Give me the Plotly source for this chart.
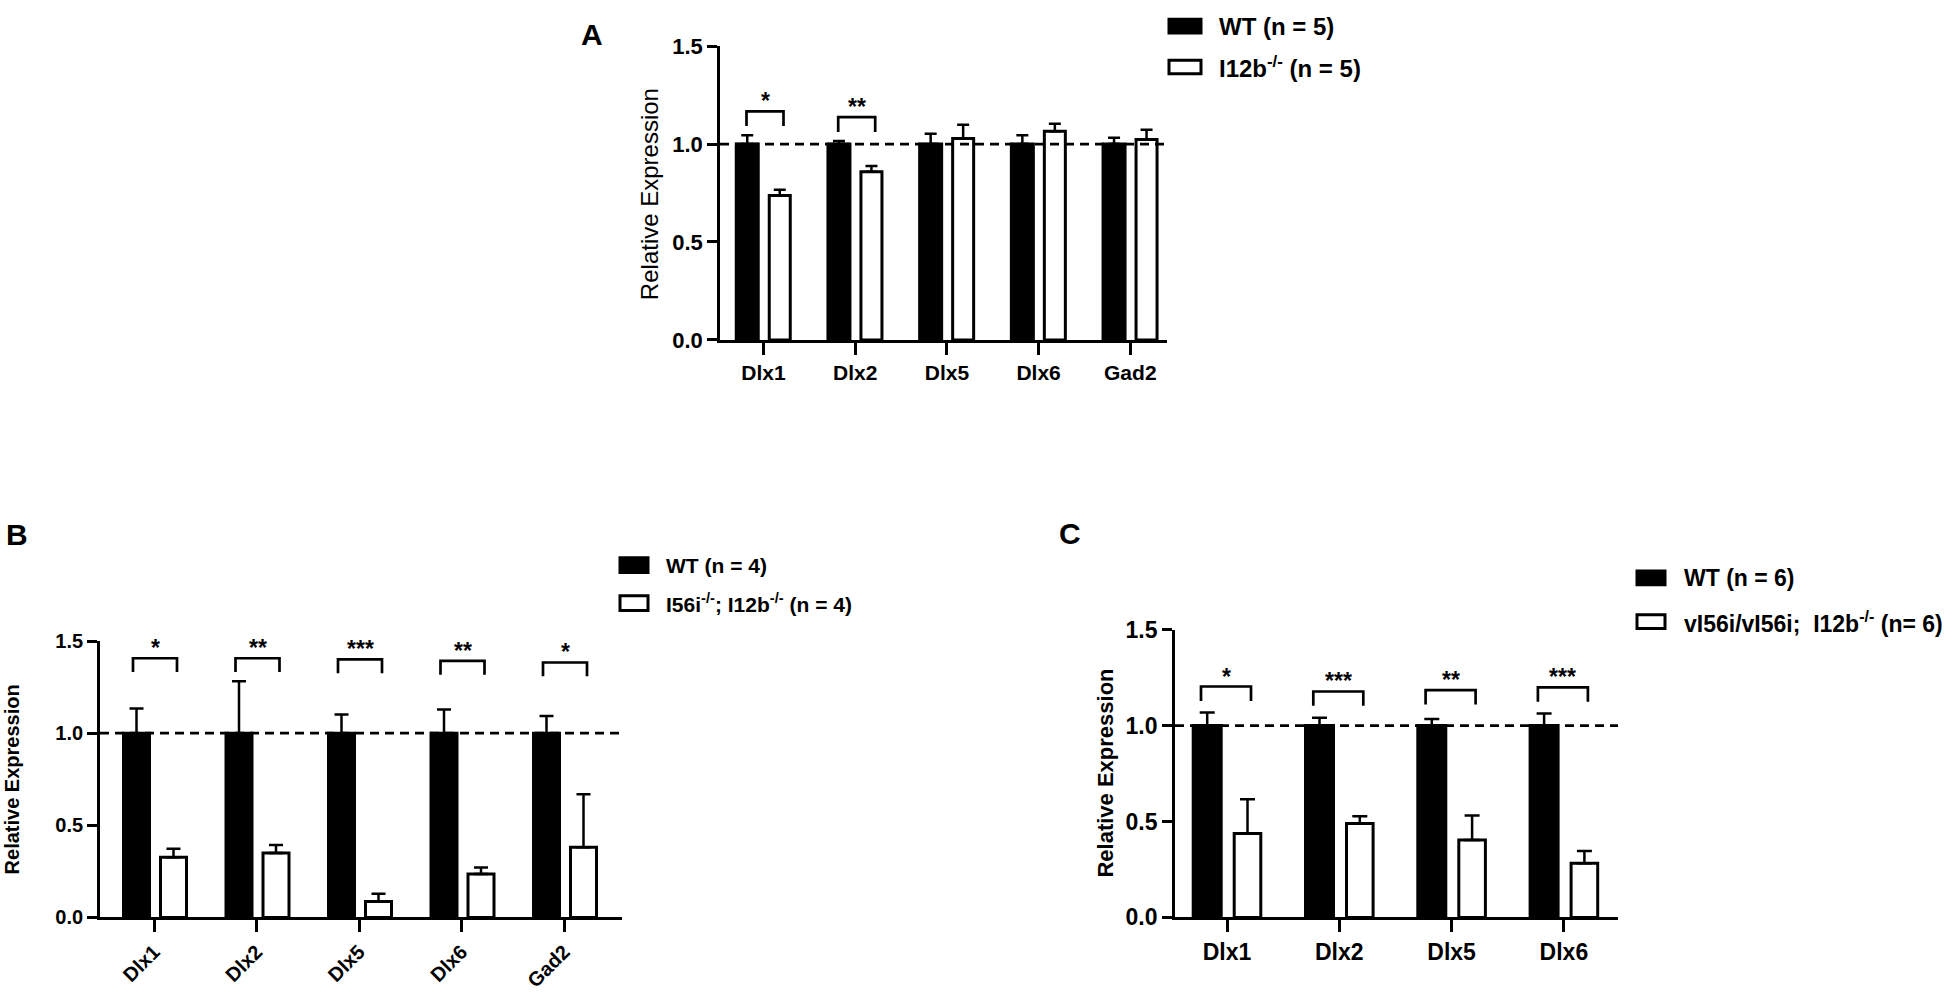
import plotly.graph_objects as go

W, H = 1955, 994

# panel A: WT vs I12b-/-
genes_a = ["Dlx1", "Dlx2", "Dlx5", "Dlx6", "Gad2"]
wt_a = [1.0, 1.0, 1.0, 1.0, 1.0]
wt_a_err = [0.045, 0.015, 0.053, 0.045, 0.032]
ko_a = [0.737, 0.858, 1.028, 1.065, 1.023]
ko_a_err = [0.030, 0.030, 0.070, 0.038, 0.050]
sig_a = ["*", "**", "", "", ""]
bracket_a = [1.167, 1.137, None, None, None]
legend_a = ["WT (n = 5)", "I12b<sup>-/-</sup> (n = 5)"]

# panel B: WT vs I56i-/-; I12b-/-
genes_b = ["Dlx1", "Dlx2", "Dlx5", "Dlx6", "Gad2"]
wt_b = [1.0, 1.0, 1.0, 1.0, 1.0]
wt_b_err = [0.134, 0.282, 0.102, 0.129, 0.093]
ko_b = [0.327, 0.350, 0.086, 0.236, 0.381]
ko_b_err = [0.046, 0.043, 0.043, 0.035, 0.288]
sig_b = ["*", "**", "***", "**", "*"]
bracket_b = [1.407, 1.407, 1.401, 1.393, 1.384]
legend_b = ["WT (n = 4)", "I56i<sup>-/-</sup>; I12b<sup>-/-</sup> (n = 4)"]

# panel C: WT vs vI56i/vI56i; I12b-/-
genes_c = ["Dlx1", "Dlx2", "Dlx5", "Dlx6"]
wt_c = [1.0, 1.0, 1.0, 1.0]
wt_c_err = [0.068, 0.041, 0.034, 0.063]
ko_c = [0.438, 0.489, 0.404, 0.282]
ko_c_err = [0.178, 0.039, 0.127, 0.064]
sig_c = ["*", "***", "**", "***"]
bracket_c = [1.204, 1.178, 1.185, 1.199]
legend_c = ["WT (n = 6)", "vI56i/vI56i;  I12b<sup>-/-</sup> (n= 6)"]

y_ticks = [0, 0.5, 1.0, 1.5]

BOLD = "Liberation Sans, Arial, sans-serif"
NARROW = "Liberation Sans Narrow, Arial Narrow, Liberation Sans, Arial, sans-serif"
LW = 3

fig = go.Figure()
shapes = []
annotations = []


def px(x):
    return x / W


def py(y):
    return 1 - y / H


def add_panel(k, genes, wt, wt_err, ko, ko_err, sig, bracket, g):
    xa, ya = ("x" if k == 1 else "x%d" % k), ("y" if k == 1 else "y%d" % k)
    idx = list(range(len(genes)))
    for vals, errs, fill, (left, w) in [(wt, wt_err, "black", g["wt"]),
                                          (ko, ko_err, "white", g["ko"])]:
        fig.add_trace(go.Bar(
            x=idx, y=vals, xaxis=xa, yaxis=ya, showlegend=False,
            offset=(left + LW / 2) / g["ppu"], width=(w - LW) / g["ppu"],
            marker=dict(color=fill, line=dict(color="black", width=LW)),
            error_y=dict(type="data", symmetric=False, array=errs,
                         arrayminus=[0] * len(errs), color="black",
                         thickness=2.5, width=g["cap"]),
        ))
    lo = (g["x0"] - g["t0"]) / g["ppu"]
    hi = (g["x1"] - g["t0"]) / g["ppu"]
    axis_x = dict(domain=[px(g["x0"]), px(g["x1"])], range=[lo, hi],
                  tickvals=idx, ticktext=genes, showline=True, linewidth=2.7,
                  linecolor="black", ticks="outside", ticklen=12, tickwidth=2.7,
                  tickcolor="black", showgrid=False, zeroline=False,
                  tickangle=g.get("angle", 0),
                  tickfont=dict(family=g["font"], size=g["xfs"], color="black", weight="bold"),
                  anchor=ya)
    axis_y = dict(domain=[py(g["y0"]), py(g["y15"])], range=[0, 1.5],
                  tickvals=y_ticks, tickformat=".1f", showline=True, linewidth=2.7,
                  linecolor="black", ticks="outside", ticklen=10, tickwidth=2.7,
                  tickcolor="black", showgrid=False, zeroline=False,
                  tickfont=dict(family=g["font"], size=g["yfs"], color="black", weight="bold"),
                  anchor=xa)
    fig.update_layout({("xaxis" if k == 1 else "xaxis%d" % k): axis_x,
                       ("yaxis" if k == 1 else "yaxis%d" % k): axis_y})
    # reference line at 1.0
    shapes.append(dict(type="line", xref=xa + " domain", yref=ya, x0=0, x1=1,
                       y0=1.0, y1=1.0, layer="above",
                       line=dict(color="black", width=2.7, dash="9px,6px")))
    b0, b1 = g["br"][0] / g["ppu"], g["br"][1] / g["ppu"]
    for i, (s, top) in enumerate(zip(sig, bracket)):
        if not s:
            continue
        path = "M %f,%f L %f,%f L %f,%f L %f,%f" % (
            i + b0, top - 0.075, i + b0, top, i + b1, top, i + b1, top - 0.075)
        shapes.append(dict(type="path", xref=xa, yref=ya, path=path, layer="above",
                           line=dict(color="black", width=2.7)))
        annotations.append(dict(x=i + (b0 + b1) / 2, y=top, xref=xa, yref=ya,
                                text=s, showarrow=False, yanchor="bottom", yshift=-5,
                                font=dict(family=BOLD, size=23, color="black", weight="bold")))


def add_legend(labels, bx0, bx1, ys, bh, tx, fs):
    for lab, yc, fill in zip(labels, ys, ["black", "white"]):
        shapes.append(dict(type="rect", xref="paper", yref="paper",
                           x0=px(bx0), x1=px(bx1), y0=py(yc + bh / 2), y1=py(yc - bh / 2),
                           fillcolor=fill, line=dict(color="black", width=LW)))
        annotations.append(dict(x=px(tx), y=py(yc), xref="paper", yref="paper",
                                text=lab, showarrow=False, xanchor="left", yanchor="middle",
                                font=dict(family=BOLD, size=fs, color="black", weight="bold")))


def add_text(text, x, y, size, bold=True, angle=0, family=BOLD):
    annotations.append(dict(x=px(x), y=py(y), xref="paper", yref="paper", text=text,
                            showarrow=False, textangle=angle, xanchor="center", yanchor="middle",
                            font=dict(family=family, size=size, color="black",
                                      weight="bold" if bold else "normal")))


add_panel(1, genes_a, wt_a, wt_a_err, ko_a, ko_a_err, sig_a, bracket_a,
          dict(x0=720, x1=1167, y0=335.7, y15=34, t0=763.5, ppu=91.7,
               wt=(-28.75, 25), ko=(4.25, 24), br=(-17, 20), cap=6,
               font=BOLD, xfs=21, yfs=22))
add_panel(2, genes_b, wt_b, wt_b_err, ko_b, ko_b_err, sig_b, bracket_b,
          dict(x0=100, x1=622, y0=928.7, y15=645, t0=154, ppu=102.5,
               wt=(-32, 29), ko=(5, 29), br=(-21, 23), cap=7,
               font=BOLD, xfs=20, yfs=20, angle=-45))
add_panel(3, genes_c, wt_c, wt_c_err, ko_c, ko_c_err, sig_c, bracket_c,
          dict(x0=1175, x1=1618, y0=928.7, y15=633.3, t0=1227, ppu=112.3,
               wt=(-35.3, 31), ko=(5.7, 29.6), br=(-26, 24), cap=7.5,
               font=NARROW, xfs=23, yfs=23))

add_legend(legend_a, 1169, 1201, [13.5, 55.5], 14, 1217, 24)
add_legend(legend_b, 620, 648, [567, 606], 15, 664, 21)
add_legend(legend_c, 1637, 1665, [580, 625], 14, 1682, 23)

add_text("Relative Expression", 649, 186, 24, bold=False, angle=-90)
add_text("Relative Expression", 12, 787, 20, angle=-90)
add_text("Relative Expression", 1106, 781, 22, angle=-90)

add_text("A", 592, 22, 30)
add_text("B", 17, 535, 30)
add_text("C", 1070, 534, 30, family=NARROW)

fig.update_layout(width=W, height=H, autosize=False,
                  margin=dict(l=0, r=0, t=0, b=0),
                  paper_bgcolor="white", plot_bgcolor="white",
                  barmode="overlay", shapes=shapes, annotations=annotations)

fig.write_html("out.html", config={"displayModeBar": False},
               post_script="document.body.style.margin='0';")
